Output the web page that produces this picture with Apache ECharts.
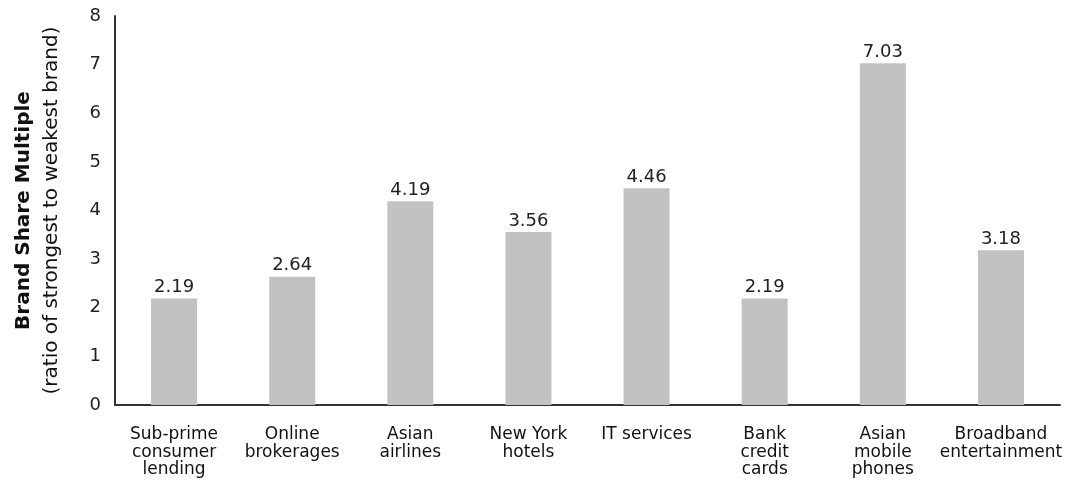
<!DOCTYPE html>
<html>
<head>
<meta charset="utf-8">
<script src="https://cdn.jsdelivr.net/npm/echarts@6/dist/echarts.min.js"></script>
<style>
html,body{margin:0;padding:0;background:#fff;}
#chart{width:1077px;height:487px;}
</style>
</head>
<body>
<div id="chart"></div>
<script>
const categories = ["Sub-prime\nconsumer\nlending", "Online\nbrokerages", "Asian\nairlines", "New York\nhotels", "IT services", "Bank\ncredit\ncards", "Asian\nmobile\nphones", "Broadband\nentertainment"];
const values = [2.19, 2.64, 4.19, 3.56, 4.46, 2.19, 7.03, 3.18];
const yTicks = {min: 0, max: 8, interval: 1};

const FONT = 'DejaVu Sans, Liberation Sans, sans-serif';
const chart = echarts.init(document.getElementById('chart'));
chart.setOption({
  animation: false,
  grid: {left: 115, right: 17, top: 16, bottom: 82, containLabel: false, outerBoundsMode: 'none'},
  xAxis: {
    type: 'category',
    data: categories,
    axisLine: {lineStyle: {color: '#333', width: 2}},
    axisTick: {show: false},
    axisLabel: {
      color: '#111', fontFamily: FONT, fontSize: 17,
      lineHeight: 17.5, margin: 21, interval: 0
    }
  },
  yAxis: {
    type: 'value',
    min: yTicks.min, max: yTicks.max, interval: yTicks.interval,
    axisLine: {show: true, lineStyle: {color: '#333', width: 2}},
    axisTick: {show: false},
    splitLine: {show: false},
    axisLabel: {color: '#222', fontFamily: FONT, fontSize: 18, margin: 14},
    name: '{a|Brand Share Multiple}\n{b|(ratio of strongest to weakest brand)}',
    nameLocation: 'middle',
    nameRotate: 90,
    nameGap: 49,
    nameTextStyle: {
      rich: {
        a: {fontFamily: FONT, fontSize: 20, fontWeight: 'bold', color: '#111', lineHeight: 28},
        b: {fontFamily: FONT, fontSize: 20, color: '#111', lineHeight: 28}
      }
    }
  },
  series: [{
    type: 'bar',
    data: values,
    barWidth: 46,
    itemStyle: {color: '#c2c2c2'},
    label: {
      show: true, position: 'top', distance: 2,
      color: '#222', fontFamily: FONT, fontSize: 18,
      formatter: p => p.value.toFixed(2)
    }
  }]
});
</script>
</body>
</html>
